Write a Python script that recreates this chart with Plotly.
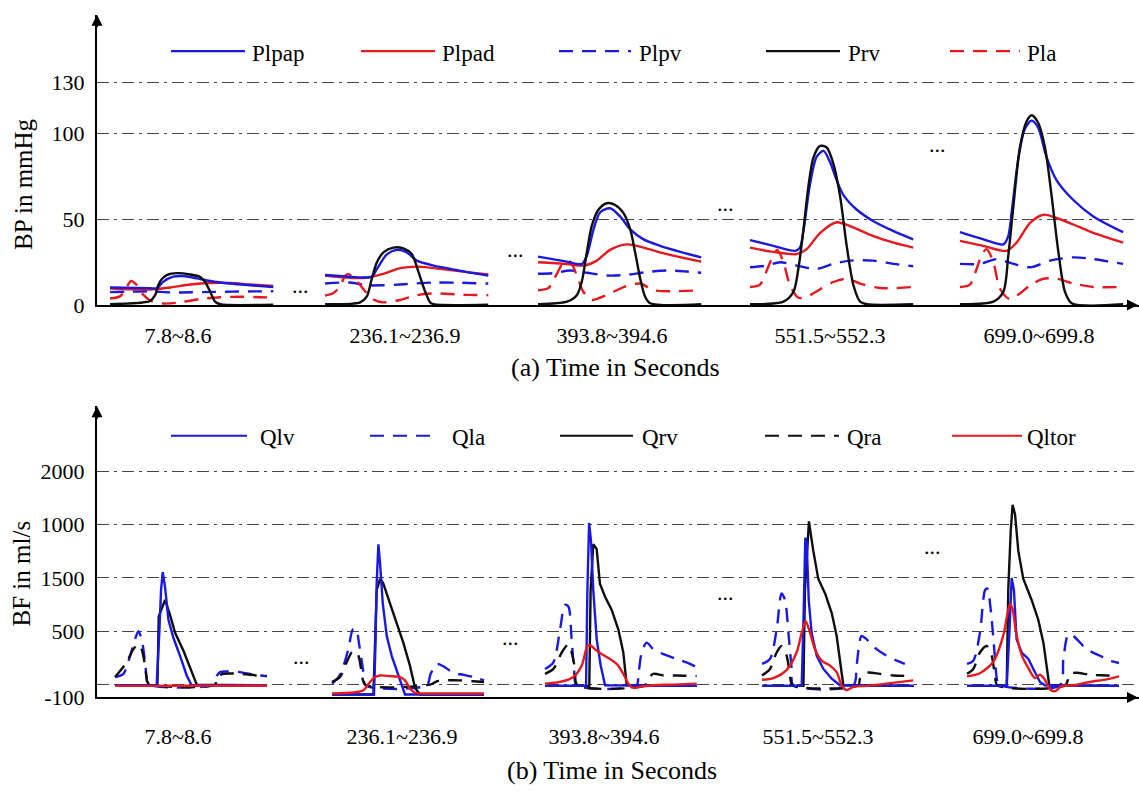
import plotly.graph_objects as go

# ---------------- data ----------------
WINDOWS = ["7.8~8.6", "236.1~236.9", "393.8~394.6", "551.5~552.3", "699.0~699.8"]

# Top panel: blood pressure (mmHg), local time t (s) inside each 0.8 s window
plpap_t = [
    [0, 0.196, 0.231, 0.26, 0.309, 0.358, 0.427, 0.491, 0.589, 0.687, 0.8],
    [0, 0.106, 0.188, 0.229, 0.254, 0.303, 0.352, 0.401, 0.45, 0.532, 0.614, 0.695, 0.8],
    [0, 0.141, 0.214, 0.239, 0.272, 0.304, 0.353, 0.402, 0.452, 0.517, 0.599, 0.697, 0.8],
    [0, 0.115, 0.221, 0.245, 0.262, 0.294, 0.327, 0.36, 0.393, 0.425, 0.458, 0.524, 0.605, 0.704, 0.8],
    [0, 0.115, 0.213, 0.237, 0.254, 0.286, 0.319, 0.352, 0.384, 0.425, 0.474, 0.556, 0.654, 0.8],
]
plpap_v = [
    [10.2, 9.8, 9.8, 13.5, 16.5, 16.9, 15.5, 14.0, 12.5, 11.5, 10.5],
    [17.5, 16.6, 16.0, 16.5, 21.0, 29.5, 32.2, 30.7, 25.9, 23.0, 21.1, 19.2, 17.2],
    [28.2, 25.3, 23.9, 28.7, 44.1, 54.0, 56.5, 51.7, 44.1, 38.3, 34.5, 31.0, 27.8],
    [37.9, 34.5, 31.6, 33.5, 43.1, 70.5, 86.6, 90.0, 83.3, 72.8, 64.2, 55.6, 48.9, 43.1, 38.3],
    [42.5, 38.3, 35.4, 40.2, 54.6, 85.2, 103.1, 107.7, 103.4, 86.2, 72.8, 61.3, 51.7, 42.5],
]
plpad_t = [
    [0, 0.196, 0.294, 0.393, 0.491, 0.589, 0.687, 0.8],
    [0, 0.188, 0.286, 0.368, 0.45, 0.532, 0.695, 0.8],
    [0, 0.141, 0.222, 0.288, 0.353, 0.435, 0.517, 0.631, 0.8],
    [0, 0.115, 0.229, 0.278, 0.344, 0.425, 0.491, 0.605, 0.704, 0.8],
    [0, 0.115, 0.229, 0.278, 0.344, 0.409, 0.474, 0.556, 0.654, 0.8],
]
plpad_v = [
    [9.6, 9.0, 10.2, 11.9, 12.8, 12.8, 11.9, 11.1],
    [17.2, 15.7, 18.2, 21.5, 22.4, 21.5, 19.2, 17.8],
    [24.9, 23.9, 23.0, 25.9, 32.2, 35.4, 33.5, 29.7, 25.3],
    [33.5, 31.0, 29.7, 32.6, 42.1, 48.3, 46.0, 40.2, 36.4, 33.5],
    [37.4, 34.5, 31.6, 36.4, 47.9, 52.7, 50.8, 47.0, 42.1, 36.4],
]
plpv_t = [
    [0, 0.1, 0.2, 0.3, 0.4, 0.5, 0.6, 0.7, 0.8],
    [0, 0.123, 0.204, 0.286, 0.368, 0.532, 0.8],
    [0, 0.075, 0.157, 0.239, 0.337, 0.435, 0.533, 0.631, 0.73, 0.8],
    [0, 0.082, 0.147, 0.229, 0.327, 0.409, 0.491, 0.605, 0.704, 0.8],
    [0, 0.098, 0.18, 0.262, 0.344, 0.442, 0.556, 0.654, 0.8],
]
plpv_v = [
    [7.5, 7.8, 8.0, 7.3, 7.4, 7.6, 7.8, 7.9, 8.0],
    [12.5, 13.1, 11.5, 11.5, 11.9, 13.1, 12.5],
    [18.2, 18.6, 20.1, 18.8, 17.2, 17.6, 19.2, 20.1, 19.5, 18.8],
    [22.0, 23.0, 24.9, 23.0, 21.1, 24.0, 25.9, 25.9, 24.0, 22.6],
    [24.0, 24.0, 26.8, 24.0, 22.0, 25.9, 27.8, 26.8, 24.0],
]
prv_t = [
    [0, 0.147, 0.196, 0.221, 0.236, 0.255, 0.28, 0.329, 0.393, 0.442, 0.466, 0.491, 0.515, 0.54, 0.8],
    [0, 0.172, 0.204, 0.229, 0.254, 0.286, 0.335, 0.384, 0.425, 0.458, 0.491, 0.515, 0.532, 0.8],
    [0, 0.141, 0.19, 0.214, 0.239, 0.263, 0.296, 0.337, 0.378, 0.419, 0.452, 0.476, 0.501, 0.525, 0.55, 0.8],
    [0, 0.164, 0.213, 0.237, 0.262, 0.286, 0.311, 0.344, 0.376, 0.409, 0.442, 0.474, 0.507, 0.54, 0.573, 0.8],
    [0, 0.164, 0.213, 0.237, 0.262, 0.294, 0.327, 0.352, 0.384, 0.417, 0.45, 0.483, 0.515, 0.548, 0.8],
]
prv_v = [
    [0.4, 1.3, 2.3, 5.7, 11.5, 15.3, 17.6, 18.6, 17.8, 16.3, 13.4, 7.7, 1.9, 0.4, 0.2],
    [0.4, 1.5, 4.8, 15.3, 24.9, 30.7, 33.5, 33.0, 29.7, 19.2, 7.7, 1.5, 0.4, 0.1],
    [0.4, 1.9, 5.7, 13.4, 30.6, 46.0, 55.6, 59.4, 58.4, 53.6, 44.1, 30.6, 15.3, 4.8, 1.0, 0.4],
    [0.4, 1.9, 7.7, 21.1, 44.1, 69.0, 86.2, 92.9, 92.0, 82.4, 63.2, 34.5, 11.5, 1.9, 0.4, 0.4],
    [0.4, 1.9, 7.7, 28.7, 57.5, 92.0, 107.3, 110.8, 106.3, 92.0, 63.2, 30.6, 7.7, 1.0, 0.4],
]
pla_t = [
    [0, 0.049, 0.079, 0.103, 0.128, 0.162, 0.206, 0.27, 0.344, 0.442, 0.54, 0.638, 0.736, 0.8],
    [0, 0.041, 0.074, 0.098, 0.115, 0.155, 0.196, 0.237, 0.286, 0.368, 0.45, 0.532, 0.695, 0.8],
    [0, 0.051, 0.092, 0.124, 0.157, 0.19, 0.222, 0.263, 0.304, 0.37, 0.435, 0.501, 0.566, 0.664, 0.8],
    [0, 0.049, 0.082, 0.106, 0.134, 0.164, 0.196, 0.237, 0.278, 0.344, 0.409, 0.474, 0.54, 0.638, 0.8],
    [0, 0.049, 0.082, 0.106, 0.131, 0.164, 0.196, 0.245, 0.294, 0.344, 0.409, 0.474, 0.556, 0.654, 0.8],
]
pla_v = [
    [3.8, 5.0, 10.0, 14.0, 12.0, 6.0, 2.0, 0.8, 1.5, 3.5, 4.5, 4.8, 4.5, 4.4],
    [5.5, 7.0, 11.0, 17.0, 18.0, 14.0, 8.0, 3.2, 1.5, 2.9, 5.7, 6.7, 5.9, 5.7],
    [8.6, 9.9, 18.2, 24.5, 25.3, 17.2, 7.7, 2.9, 4.2, 7.7, 11.1, 12.5, 8.6, 8.0, 8.6],
    [10.5, 11.9, 20.1, 26.8, 32.2, 24.9, 11.5, 4.2, 4.8, 9.2, 13.4, 15.3, 12.5, 9.9, 10.5],
    [10.5, 11.9, 21.1, 29.1, 32.6, 24.9, 9.6, 3.4, 6.7, 11.5, 15.3, 15.3, 12.5, 10.5, 10.5],
]

# Bottom panel: blood flow (ml/s)
qlv_t = [
    [0, 0.219, 0.233, 0.242, 0.251, 0.263, 0.281, 0.307, 0.342, 0.377, 0.403, 0.8],
    [0, 0.221, 0.228, 0.235, 0.244, 0.253, 0.267, 0.288, 0.314, 0.349, 0.384, 0.8],
    [0, 0.216, 0.223, 0.232, 0.242, 0.254, 0.272, 0.293, 0.316, 0.8],
    [0, 0.209, 0.218, 0.228, 0.235, 0.246, 0.261, 0.288, 0.323, 0.367, 0.41, 0.8],
    [0, 0.209, 0.223, 0.235, 0.247, 0.261, 0.288, 0.323, 0.349, 0.384, 0.41, 0.8],
]
qlv_v = [
    [-6, -6, 486, 885, 1054, 915, 608, 439, 270, 86, -6, -6],
    [-92, -92, 332, 946, 1315, 1131, 762, 455, 270, 86, -92, -92],
    [-12, -12, 885, 1515, 1346, 885, 424, 178, -6, -12],
    [-12, -12, 578, 1377, 1346, 793, 485, 270, 147, 55, -6, -12],
    [-12, -12, 485, 1000, 885, 424, 301, 240, 147, 25, -6, -12],
]
qla_t = [
    [0, 0.044, 0.079, 0.105, 0.123, 0.14, 0.158, 0.167, 0.175, 0.517, 0.526, 0.553, 0.588, 0.658, 0.728, 0.798],
    [0, 0.042, 0.086, 0.109, 0.126, 0.144, 0.165, 0.177, 0.498, 0.519, 0.551, 0.586, 0.638, 0.691, 0.744, 0.8],
    [0, 0.044, 0.079, 0.105, 0.123, 0.14, 0.153, 0.167, 0.482, 0.491, 0.509, 0.535, 0.57, 0.623, 0.693, 0.763, 0.798],
    [0, 0.042, 0.077, 0.103, 0.121, 0.139, 0.156, 0.165, 0.481, 0.498, 0.524, 0.551, 0.603, 0.656, 0.709, 0.752],
    [0, 0.033, 0.068, 0.095, 0.107, 0.125, 0.142, 0.16, 0.17, 0.489, 0.507, 0.533, 0.56, 0.63, 0.7, 0.752, 0.8],
]
qla_v = [
    [71, 101, 270, 424, 500, 424, 209, 55, 0, 0, 55, 117, 123, 117, 92, 80],
    [9, 92, 332, 516, 522, 362, 117, -6, -6, 101, 194, 172, 111, 92, 71, 40],
    [147, 209, 516, 747, 731, 424, 147, -6, -6, 86, 301, 393, 332, 286, 240, 194, 163],
    [194, 240, 516, 854, 793, 485, 147, -6, -6, 178, 455, 424, 332, 270, 224, 194],
    [194, 224, 485, 885, 900, 700, 362, 25, -6, -6, 240, 470, 455, 332, 270, 224, 203],
]
qrv_t = [
    [0, 0.223, 0.23, 0.263, 0.289, 0.316, 0.36, 0.395, 0.43, 0.8],
    [0, 0.218, 0.228, 0.235, 0.253, 0.27, 0.305, 0.34, 0.375, 0.41, 0.437, 0.463, 0.8],
    [0, 0.233, 0.24, 0.254, 0.272, 0.289, 0.316, 0.351, 0.386, 0.412, 0.43, 0.8],
    [0, 0.218, 0.226, 0.247, 0.27, 0.296, 0.332, 0.367, 0.393, 0.41, 0.428, 0.8],
    [0, 0.209, 0.217, 0.23, 0.24, 0.253, 0.27, 0.296, 0.34, 0.375, 0.402, 0.419, 0.433, 0.8],
]
qrv_v = [
    [-6, -6, 639, 793, 655, 486, 317, 163, 0, -6],
    [-92, -92, 486, 885, 992, 946, 762, 578, 393, 178, -31, -92, -92],
    [-12, -12, 885, 1315, 1269, 946, 823, 700, 516, 301, -6, -12],
    [-12, -12, 885, 1530, 1253, 992, 854, 670, 455, 240, -6, -12],
    [-12, -12, 885, 1438, 1684, 1592, 1253, 992, 793, 608, 393, 178, -6, -12],
]
qra_t = [
    [0, 0.061, 0.096, 0.123, 0.14, 0.158, 0.17, 0.184, 0.526, 0.535, 0.57, 0.658, 0.745, 0.798],
    [0, 0.042, 0.077, 0.103, 0.121, 0.139, 0.156, 0.174, 0.516, 0.551, 0.603, 0.674, 0.744, 0.8],
    [0, 0.044, 0.088, 0.123, 0.14, 0.158, 0.17, 0.526, 0.535, 0.57, 0.623, 0.693, 0.798],
    [0, 0.042, 0.077, 0.103, 0.13, 0.147, 0.161, 0.507, 0.516, 0.551, 0.621, 0.691, 0.796],
    [0, 0.033, 0.068, 0.103, 0.13, 0.147, 0.16, 0.516, 0.542, 0.577, 0.647, 0.735, 0.8],
]
qra_v = [
    [71, 209, 332, 378, 332, 178, 25, 0, 0, 71, 101, 101, 86, 80],
    [25, 71, 209, 301, 317, 270, 117, 0, 0, 31, 40, 40, 31, 25],
    [101, 147, 301, 378, 301, 147, -6, -6, 40, 101, 86, 86, 80],
    [86, 147, 301, 362, 270, 86, -6, -6, 55, 111, 101, 86, 80],
    [101, 147, 301, 362, 270, 86, -6, -6, 101, 111, 92, 86, 80],
]
qltor_t = [
    [0, 0.2, 0.4, 0.6, 0.8],
    [0, 0.112, 0.165, 0.2, 0.226, 0.253, 0.305, 0.358, 0.384, 0.41, 0.437, 0.533, 0.8],
    [0, 0.079, 0.149, 0.193, 0.223, 0.237, 0.263, 0.298, 0.342, 0.377, 0.412, 0.439, 0.465, 0.5, 0.57, 0.675, 0.798],
    [0, 0.06, 0.13, 0.182, 0.209, 0.23, 0.253, 0.279, 0.314, 0.358, 0.393, 0.419, 0.446, 0.481, 0.551, 0.656, 0.796],
    [0, 0.068, 0.139, 0.191, 0.214, 0.226, 0.24, 0.258, 0.288, 0.323, 0.358, 0.384, 0.41, 0.437, 0.463, 0.498, 0.56, 0.647, 0.735, 0.8],
]
qltor_v = [
    [-12, -12, -10, -10, -10],
    [-83, -74, -52, 25, 71, 86, 80, 71, 40, -37, -77, -83, -83],
    [9, 25, 71, 178, 362, 369, 332, 286, 240, 194, 101, 9, -31, -21, -6, 0, 9],
    [46, 61, 138, 301, 485, 593, 485, 332, 224, 178, 117, -6, -52, -21, -12, 9, 40],
    [77, 107, 215, 461, 676, 753, 707, 491, 276, 154, 61, 92, 46, -46, -61, -15, -6, 25, 49, 77],
]

BP_TICKS = [0, 50, 100, 130]
BF_TICKVALS = [-120, 0, 500, 1000, 1500, 2000]
BF_TICKTEXT = ["-100", "", "500", "1500", "1000", "2000"]

# ---------------- layout constants ----------------
W, H = 1139, 796
X0 = 97
TOP_PXS = 204.0   # px per second in top panel
BOT_PXS = 190.0   # px per second in bottom panel
TOP_OFF = [0.064, 1.118, 2.162, 3.201, 4.230]
BOT_OFF = [0.095, 1.237, 2.358, 3.500, 4.579]
TOP_LBL = [(178 - X0) / TOP_PXS, (405 - X0) / TOP_PXS, (612 - X0) / TOP_PXS,
           (830 - X0) / TOP_PXS, (1039 - X0) / TOP_PXS]
BOT_LBL = [(178 - X0) / BOT_PXS, (402 - X0) / BOT_PXS, (604 - X0) / BOT_PXS,
           (818 - X0) / BOT_PXS, (1028 - X0) / BOT_PXS]

BLUE = "rgb(25,25,225)"
RED = "rgb(230,25,30)"
BLACK = "rgb(15,15,15)"
DASH = "14px,9px"
FONT = "Liberation Serif, Times New Roman, serif"

def py(p):  # pixel row -> paper y
    return 1 - p / H

def px(p):  # pixel column -> paper x
    return p / W

fig = go.Figure()

def add_series(name, ts, vs, offs, color, dash, xa, ya, shape="spline", width=2.4):
    for k, (t, v) in enumerate(zip(ts, vs)):
        fig.add_trace(go.Scatter(
            x=[offs[k] + ti for ti in t], y=v, mode="lines", name=name,
            legendgroup=name, showlegend=False, xaxis=xa, yaxis=ya,
            line=dict(color=color, width=width, dash=dash, shape=shape,
                      smoothing=0.8 if shape == "spline" else None),
            hoverinfo="skip"))

# top panel (draw order: dashed first, black on top)
add_series("Plpv", plpv_t, plpv_v, TOP_OFF, BLUE, DASH, "x", "y")
add_series("Pla", pla_t, pla_v, TOP_OFF, RED, DASH, "x", "y")
add_series("Plpad", plpad_t, plpad_v, TOP_OFF, RED, "solid", "x", "y")
add_series("Plpap", plpap_t, plpap_v, TOP_OFF, BLUE, "solid", "x", "y")
add_series("Prv", prv_t, prv_v, TOP_OFF, BLACK, "solid", "x", "y")

# bottom panel
add_series("Qla", qla_t, qla_v, BOT_OFF, BLUE, DASH, "x2", "y2")
add_series("Qra", qra_t, qra_v, BOT_OFF, BLACK, DASH, "x2", "y2")
add_series("Qrv", qrv_t, qrv_v, BOT_OFF, BLACK, "solid", "x2", "y2", shape="linear")
add_series("Qlv", qlv_t, qlv_v, BOT_OFF, BLUE, "solid", "x2", "y2", shape="linear")
add_series("Qltor", qltor_t, qltor_v, BOT_OFF, RED, "solid", "x2", "y2")

grid = dict(showgrid=True, gridcolor="rgb(70,70,70)", gridwidth=1.2, griddash="12px,5px,3px,5px")
xdom = [X0 / W, 1.0]
common_x = dict(showline=True, linecolor="black", linewidth=2, showgrid=False, zeroline=False,
                ticks="", tickfont=dict(family=FONT, size=22, color="black"),
                tickmode="array", ticktext=WINDOWS, domain=xdom, fixedrange=True)
common_y = dict(showline=True, linecolor="black", linewidth=2, zeroline=False, ticks="",
                tickfont=dict(family=FONT, size=22, color="black"), tickmode="array",
                ticklabelstandoff=6, fixedrange=True, **grid)

fig.update_layout(
    width=W, height=H, margin=dict(l=0, r=0, t=0, b=0),
    paper_bgcolor="white", plot_bgcolor="white", showlegend=False,
    font=dict(family=FONT, color="black"),
    xaxis=dict(range=[0, (W - X0) / TOP_PXS], tickvals=TOP_LBL, anchor="y",
               ticklabelstandoff=10, **common_x),
    yaxis=dict(domain=[py(310), py(15)], range=[0, (310 - 15) / 1.74],
               tickvals=BP_TICKS, ticktext=[str(v) for v in BP_TICKS], anchor="x", **common_y),
    xaxis2=dict(range=[0, (W - X0) / BOT_PXS], tickvals=BOT_LBL, anchor="y2",
                ticklabelstandoff=18, **common_x),
    yaxis2=dict(domain=[py(709), py(413)], range=[-120, (696 - 413) * 500 / 54.25],
                tickvals=BF_TICKVALS, ticktext=BF_TICKTEXT, anchor="x2", **common_y),
)

ann = []
shapes = []
# axis arrowheads
for (tx, ty, ax, ay) in [(X0, 15, 0, 14), (W, 310, -14, 0), (X0, 413, 0, 14), (W, 709, -14, 0)]:
    ann.append(dict(x=px(tx), y=py(ty), xref="paper", yref="paper", text="", showarrow=True,
                    ax=ax, ay=ay, arrowhead=2, arrowsize=1.1, arrowwidth=2, arrowcolor="black"))

def label(x, y, text, size, angle=0, xanchor="center"):
    ann.append(dict(x=px(x), y=py(y), xref="paper", yref="paper", text=text, textangle=angle,
                    xanchor=xanchor, yanchor="middle", showarrow=False,
                    font=dict(family=FONT, size=size, color="black")))

# axis titles
label(24, 187, "BP in mmHg", 25, angle=-90)
label(21, 583, "BF in ml/s", 25, angle=-90)
label(615, 374, "(a) Time in Seconds", 26)
label(612, 783, "(b) Time in Seconds", 26)
# ellipses between windows
for (ex, ey) in [(300, 290), (515, 254), (725, 207), (937, 147),
                 (301, 667), (510, 648), (725, 602), (932, 556)]:
    label(ex, ey, "...", 22)
# manual legends
top_leg = [("Plpap", BLUE, "solid", 171, 245, 250), ("Plpad", RED, "solid", 361, 435, 440),
           ("Plpv", BLUE, DASH, 559, 631, 637), ("Prv", BLACK, "solid", 766, 840, 846),
           ("Pla", RED, DASH, 950, 1020, 1025)]
bot_leg = [("Qlv", BLUE, "solid", 171, 247, 258), ("Qla", BLUE, DASH, 370, 432, 450),
           ("Qrv", BLACK, "solid", 560, 633, 640), ("Qra", BLACK, DASH, 765, 839, 845),
           ("Qltor", RED, "solid", 952, 1022, 1025)]
for items, ly in [(top_leg, 52), (bot_leg, 443)]:
    for (name, col, dsh, x0, x1, tx) in items:
        shapes.append(dict(type="line", xref="paper", yref="paper", x0=px(x0), x1=px(x1),
                           y0=py(ly), y1=py(ly), line=dict(color=col, width=2.2, dash=dsh)))
        label(tx, ly + 2, name, 23, xanchor="left")

fig.update_layout(annotations=ann, shapes=shapes)
fig.write_html("out.html")
